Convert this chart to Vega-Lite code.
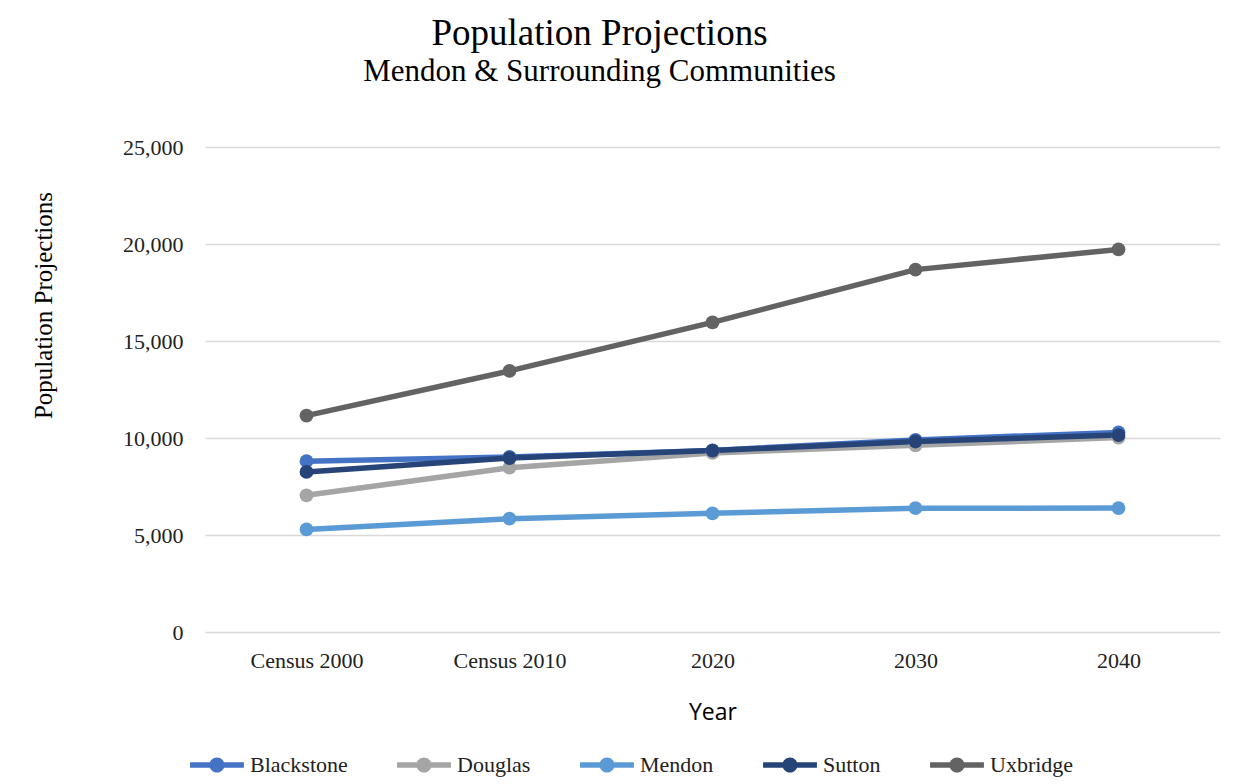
{
  "$schema": "https://vega.github.io/schema/vega-lite/v6.json",
  "autosize": {"type": "none"},
  "width": 1015,
  "height": 485,
  "padding": {"left": 205, "top": 147, "right": 25, "bottom": 152},
  "background": "white",
  "title": {
    "text": "Population Projections",
    "subtitle": "Mendon & Surrounding Communities",
    "anchor": "middle",
    "dx": -113,
    "offset": 48,
    "font": "Liberation Serif",
    "fontSize": 37,
    "fontWeight": "normal",
    "color": "#000000",
    "subtitleFont": "Liberation Serif",
    "subtitleFontSize": 31,
    "subtitleColor": "#000000",
    "subtitlePadding": 4
  },
  "data": {
    "values": [
      {"Year": "Census 2000", "Town": "Blackstone", "Population": 8804},
      {"Year": "Census 2010", "Town": "Blackstone", "Population": 9026},
      {"Year": "2020", "Town": "Blackstone", "Population": 9360},
      {"Year": "2030", "Town": "Blackstone", "Population": 9900},
      {"Year": "2040", "Town": "Blackstone", "Population": 10290},
      {"Year": "Census 2000", "Town": "Douglas", "Population": 7045},
      {"Year": "Census 2010", "Town": "Douglas", "Population": 8471},
      {"Year": "2020", "Town": "Douglas", "Population": 9230},
      {"Year": "2030", "Town": "Douglas", "Population": 9620},
      {"Year": "2040", "Town": "Douglas", "Population": 10020},
      {"Year": "Census 2000", "Town": "Mendon", "Population": 5286},
      {"Year": "Census 2010", "Town": "Mendon", "Population": 5839},
      {"Year": "2020", "Town": "Mendon", "Population": 6120},
      {"Year": "2030", "Town": "Mendon", "Population": 6380},
      {"Year": "2040", "Town": "Mendon", "Population": 6390},
      {"Year": "Census 2000", "Town": "Sutton", "Population": 8250},
      {"Year": "Census 2010", "Town": "Sutton", "Population": 8963},
      {"Year": "2020", "Town": "Sutton", "Population": 9350},
      {"Year": "2030", "Town": "Sutton", "Population": 9820},
      {"Year": "2040", "Town": "Sutton", "Population": 10150},
      {"Year": "Census 2000", "Town": "Uxbridge", "Population": 11156},
      {"Year": "Census 2010", "Town": "Uxbridge", "Population": 13457},
      {"Year": "2020", "Town": "Uxbridge", "Population": 15960},
      {"Year": "2030", "Town": "Uxbridge", "Population": 18680},
      {"Year": "2040", "Town": "Uxbridge", "Population": 19720}
    ]
  },
  "mark": {"type": "line", "strokeWidth": 5.5, "point": {"filled": true, "size": 190}},
  "encoding": {
    "x": {
      "field": "Year",
      "type": "ordinal",
      "sort": ["Census 2000", "Census 2010", "2020", "2030", "2040"],
      "scale": {"type": "point", "padding": 0.5},
      "axis": {
        "title": "Year",
        "titleFont": "Open Sans",
        "titleFontSize": 23,
        "titleFontWeight": "normal",
        "titleColor": "#000000",
        "titlePadding": 30,
        "labelFont": "Liberation Serif",
        "labelFontSize": 22,
        "labelColor": "#222222",
        "labelPadding": 18,
        "labelAngle": 0,
        "ticks": false,
        "domain": false,
        "grid": false
      }
    },
    "y": {
      "field": "Population",
      "type": "quantitative",
      "scale": {"domain": [0, 25000], "nice": false},
      "axis": {
        "title": "Population Projections",
        "titleFont": "Liberation Serif",
        "titleFontSize": 25,
        "titleFontWeight": "normal",
        "titleColor": "#000000",
        "titleX": -149,
        "titleY": 158,
        "titleAlign": "center",
        "titleAngle": -90,
        "titleBaseline": "bottom",
        "labelFont": "Liberation Serif",
        "labelFontSize": 22,
        "labelColor": "#222222",
        "labelPadding": 22,
        "values": [0, 5000, 10000, 15000, 20000, 25000],
        "format": ",d",
        "ticks": false,
        "domain": false,
        "grid": true,
        "gridColor": "#d9d9d9",
        "gridWidth": 1.5
      }
    },
    "color": {
      "field": "Town",
      "type": "nominal",
      "scale": {
        "domain": ["Blackstone", "Douglas", "Mendon", "Sutton", "Uxbridge"],
        "range": ["#4472C4", "#A5A5A5", "#5B9BD5", "#264478", "#636363"]
      },
      "legend": {
        "title": null,
        "orient": "none",
        "direction": "horizontal",
        "legendX": -15,
        "legendY": 591,
        "labelFont": "Liberation Serif",
        "labelFontSize": 22,
        "labelColor": "#222222",
        "symbolType": "M-1,-0.1H1V0.1H-1Z M-0.28,0A0.28,0.28 0 1,1 0.28,0A0.28,0.28 0 1,1 -0.28,0Z",
        "symbolSize": 2900,
        "symbolStrokeWidth": 0,
        "labelOffset": 6,
        "columnPadding": 49
      }
    }
  },
  "config": {
    "view": {"stroke": null}
  }
}
